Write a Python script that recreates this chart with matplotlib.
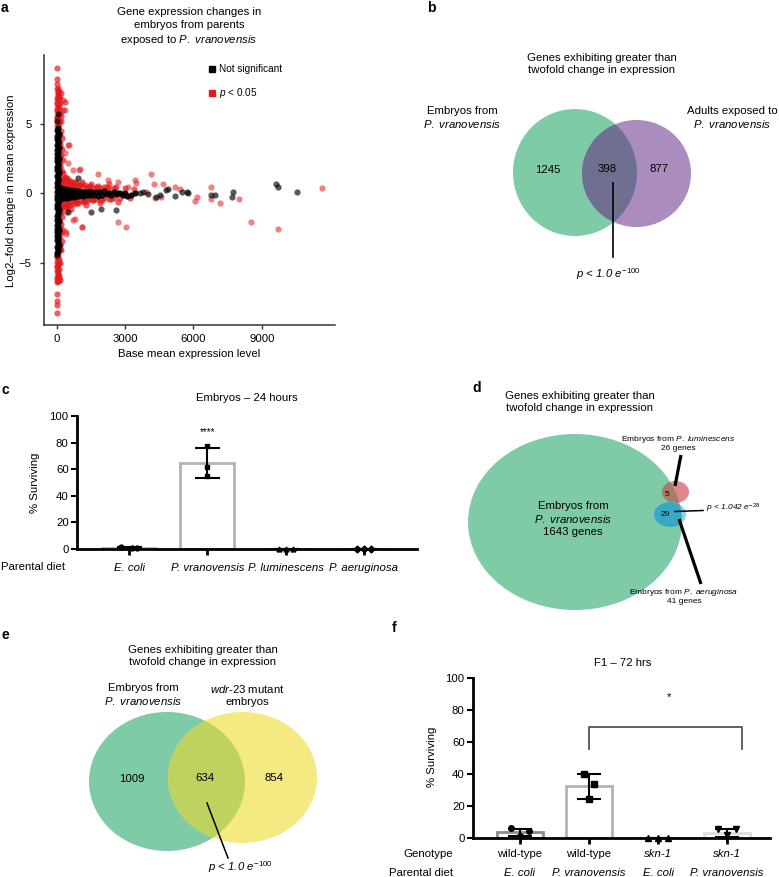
import matplotlib
matplotlib.use("Agg")
import matplotlib.pyplot as plt
from matplotlib.patches import Ellipse
from matplotlib.lines import Line2D
import numpy as np

plt.rcParams['font.family'] = ['Liberation Sans', 'DejaVu Sans']
plt.rcParams['mathtext.fontset'] = 'custom'
plt.rcParams['mathtext.rm'] = 'Liberation Sans'
plt.rcParams['mathtext.it'] = 'Liberation Sans:italic'
plt.rcParams['mathtext.bf'] = 'Liberation Sans:bold'

# ---------------- data ----------------
# panel a: significant genes (p < 0.05) - base mean, log2 fold change
# dense column of low-expression genes
sig_col_base = [20, 90, 40, 120, 10, 70, 140, 30, 100, 50, 15, 130, 60, 25, 110, 45, 80, 10, 55, 35, 40, 30,
                60, 100, 30, 90, 40, 110, 20, 80, 50, 100,
                206, 350, 277, 160, 200, 180,
                30, 100, 20, 80, 40, 120, 10, 60, 30, 90, 50, 20, 40, 35, 40, 35, 150, 170,
                70, 20, 60, 100, 30, 70, 50, 90, 20, 60]
sig_col_lfc = [4.9, 5.0, 5.2, 5.3, 5.5, 5.6, 5.8, 5.9, 6.1, 6.2, 6.4, 6.5, 6.7, 6.9, 7.0, 7.2, 7.3, 7.5, 7.6, 7.9, 8.2, 9.0,
               4.8, 5.15, 5.45, 5.75, 6.05, 6.35, 6.6, 6.85, 7.1, 7.4,
               7.2, 6.6, 6.0, 6.9, 5.6, 5.2,
               -4.5, -4.7, -4.9, -5.1, -5.3, -5.4, -5.6, -5.8, -6.0, -6.1, -6.3, -6.4, -7.2, -7.7, -8.0, -8.6, -5.0, -6.2,
               -4.4, -4.6, -4.8, -5.0, -5.2, -5.5, -5.7, -5.9, -6.15, -6.3]
# red shoulder along the column and around the horizontal band
sig_halo_base = [180, 220, 160, 250, 200, 300, 170, 260, 350, 200, 300, 180, 250, 200, 280, 170, 230, 160, 200,
                 120, 140, 110, 150, 130, 160, 120, 140, 110, 130, 150, 120, 140, 110, 160, 130, 120, 150, 130,
                 150, 230, 300, 380, 450, 520, 600, 680, 760, 850, 950, 1050, 1150, 1250, 1350, 1450, 1600, 1750,
                 1900, 2100, 2300, 2500,
                 150, 230, 300, 380, 450, 520, 600, 680, 760, 850, 950, 1050, 1150, 1250, 1350, 1450, 1600, 1750,
                 1900, 2100, 2300, 2500,
                 200, 350, 500, 650, 800, 200, 350, 500, 650, 800,
                 300, 450, 600, 380, 520, 650, 420, 800, 900, 700,
                 1000, 1200, 1400, 1600, 1800, 2000, 2200, 2400, 2600, 2800, 3000, 1100, 1500, 1900, 2300, 2700,
                 1300, 3200, 3400]
sig_halo_lfc = [4.5, 4.0, 3.6, 3.2, 2.8, 2.4, 2.0, 1.6, 1.2, 0.9, -0.9, -1.3, -1.7, -2.2, -2.6, -3.0, -3.4, -3.8, -4.1,
                0.6, 1.0, 1.4, 1.8, 2.2, 2.6, 3.0, 3.4, 3.8, 4.2, -0.6, -1.0, -1.5, -2.0, -2.4, -2.8, -3.2, -3.6, -4.0,
                1.2, 1.0, 0.9, 1.1, 0.8, 0.95, 0.7, 0.85, 0.6, 0.75, 0.55, 0.7, 0.5, 0.6, 0.45, 0.55, 0.4, 0.5,
                0.4, 0.45, 0.35, 0.4,
                -1.1, -0.9, -1.0, -0.8, -0.95, -0.7, -0.85, -0.6, -0.75, -0.55, -0.7, -0.5, -0.6, -0.45, -0.55, -0.4,
                -0.5, -0.4, -0.45, -0.35, -0.4, -0.3,
                0.6, 0.55, 0.5, 0.5, 0.45, -0.6, -0.55, -0.5, -0.45, -0.45,
                1.5, 1.1, 0.9, 0.7, -0.8, -1.1, -1.0, 0.8, -0.7, 0.6,
                0.6, -0.55, 0.5, -0.5, 0.55, -0.45, 0.5, -0.4, 0.45, -0.35, 0.4, 0.8, 0.7, -0.7, 0.65, -0.6,
                -0.8, -0.3, 0.3]
# isolated significant genes
sig_out_base = [497, 351, 716, 1010, 424, 716, 1130, 424, 206,
                11620, 9690, 8520, 8005, 7170, 6760, 6760, 6160, 6060, 5400, 5180, 4670, 4260, 4130, 4595, 4300,
                3940, 3500, 3425, 3060, 2690, 3130, 2690, 2250, 1815, 1130, 790, 965, 525, 500, 425, 350, 275]
sig_out_lfc = [3.5, 2.9, 1.7, 1.76, -1.3, -1.9, -2.4, -2.8, -2.8,
               0.37, -2.53, -2.03, -0.37, -0.71, 0.49, -0.42, -0.25, -0.56, 0.32, 0.49, 0.68, 0.68, 1.38, -0.23, -0.35,
               0.13, 0.73, 0.97, -2.43, -2.07, 0.49, 0.85, 0.97, 1.38, -2.43, -1.83, 1.69, 3.49, 2.22, -2.94, 6.0, 6.73]

# panel a: not significant genes
ns_col_base = [30, 80, 55, 10, 95, 45, 70, 20, 85, 40, 60, 15, 90, 35, 75, 25, 50, 100, 30, 65, 10, 80, 45, 95,
               20, 60, 35, 85, 50, 15, 70, 40, 90, 25, 55, 100, 30, 75, 10, 65, 45, 85, 20, 55, 95, 35, 70, 15,
               80, 50, 25, 90, 40, 60, 10, 75, 30, 100, 45, 20, 85, 55, 35, 70, 15, 90, 50, 25, 60]
ns_col_lfc = [-4.25, -4.12, -3.98, -3.86, -3.71, -3.6, -3.45, -3.33, -3.2, -3.06, -2.93, -2.8, -2.66, -2.54,
              -2.4, -2.27, -2.14, -2.0, -1.88, -1.74, -1.61, -1.48, -1.35, -1.22, -1.08, -0.95, -0.82, -0.7,
              -0.56, -0.43, -0.3, -0.17, -0.04, 0.09, 0.22, 0.35, 0.48, 0.61, 0.74, 0.88, 1.0, 1.14, 1.27, 1.4,
              1.53, 1.66, 1.8, 1.93, 2.06, 2.19, 2.32, 2.45, 2.58, 2.72, 2.85, 2.98, 3.11, 3.24, 3.37, 3.5,
              3.63, 3.77, 3.9, 4.03, 4.16, 4.29, 4.42, 4.55, 4.68]
ns_band_base = [120, 160, 200, 240, 280, 320, 360, 400, 450, 500, 550, 600, 650, 700, 760, 820, 880, 940, 1000,
                1080, 1160, 1240, 1320, 1400, 1480,
                120, 160, 200, 240, 280, 320, 360, 400, 450, 500, 550, 600, 650, 700, 760, 820, 880, 940, 1000,
                1080, 1160, 1240, 1320, 1400, 1480,
                140, 260, 380, 520, 680, 860, 1040, 1240, 1440,
                1560, 1640, 1720, 1800, 1900, 2000, 2100, 2200, 2300, 2400, 2500, 2600, 2700, 2800, 2900, 3000,
                3100, 3280, 3450]
ns_band_lfc = [0.35, 0.3, 0.38, 0.28, 0.33, 0.25, 0.3, 0.22, 0.27, 0.2, 0.24, 0.18, 0.22, 0.17, 0.2, 0.15, 0.18,
               0.12, 0.16, 0.12, 0.14, 0.1, 0.12, 0.08, 0.1,
               -0.38, -0.32, -0.4, -0.3, -0.35, -0.28, -0.32, -0.25, -0.3, -0.22, -0.26, -0.2, -0.24, -0.18,
               -0.22, -0.16, -0.2, -0.14, -0.18, -0.13, -0.15, -0.11, -0.13, -0.1, -0.12,
               0.02, -0.03, 0.01, -0.02, 0.03, -0.01, 0.02, -0.02, 0.01,
               0.12, -0.1, 0.1, -0.15, 0.1, -0.1, 0.15, -0.05, 0.05, -0.1, 0.1, -0.05, 0.0, 0.05, -0.1, 0.0,
               -0.15, -0.1, 0.05]
ns_out_base = [30, 50, 20, 3645, 3790, 4010, 4375, 4520, 4815, 4890, 5180, 5475, 5720, 5765, 6760, 6935,
               7695, 7740, 9615, 9715, 10520, 2620, 1930, 1520, 500, 940]
ns_out_lfc = [5.2, 5.7, -4.4, 0.06, 0.13, -0.04, -0.23, -0.11, 0.25, 0.3, -0.18, 0.09, 0.13, 0.01, -0.11, -0.11,
              -0.27, 0.11, 0.68, 0.44, 0.09, -1.19, -1.12, -1.35, -1.35, 1.09]

# panel b / d / e: gene counts
venn_b = [1245, 398, 877]
venn_d = [1643, 5, 29, 26, 41]
venn_e = [1009, 634, 854]

# panel c: embryo survival, 24 h
c_diets = ['E. coli', 'P. vranovensis', 'P. luminescens', 'P. aeruginosa']
c_means = [1.0, 64.8, 0.0, 0.0]
c_sd = [0.5, 11.3, 0.0, 0.0]
c_points = [[1.6, 0.7, 0.8], [77.6, 62.0, 55.0], [0.0, 0.0, 0.0], [0.0, 0.0, 0.0]]

# panel f: F1 survival, 72 h
f_geno = ['wild-type', 'wild-type', 'skn-1', 'skn-1']
f_diets = ['E. coli', 'P. vranovensis', 'E. coli', 'P. vranovensis']
f_means = [3.5, 32.2, 0.0, 3.3]
f_sd = [2.0, 8.0, 0.0, 2.5]
f_points = [[6.4, 1.5, 4.6], [39.8, 24.4, 33.9], [0.0, 0.0, 0.0], [5.8, 1.9, 5.5]]

# ---------------- figure ----------------
W, H = 779, 877
fig = plt.figure(figsize=(W / 100, H / 100), dpi=100)


def px_axes(x0, y0, x1, y1):
    return fig.add_axes([x0 / W, 1 - y1 / H, (x1 - x0) / W, (y1 - y0) / H])


FS = 8.2
RED = '#e41a1c'

# ---- panel a: scatter ----
ax_a = px_axes(44, 55, 335, 325)
# red first, black on top; dense parts drawn with stronger alpha so they saturate like the original
ax_a.scatter(sig_col_base + sig_halo_base, sig_col_lfc + sig_halo_lfc, s=20, c=RED, alpha=0.7,
             linewidths=0, zorder=2)
ax_a.scatter(sig_out_base, sig_out_lfc, s=20, c=RED, alpha=0.55, linewidths=0, zorder=2)
ax_a.scatter(ns_col_base + ns_band_base, ns_col_lfc + ns_band_lfc, s=20, c='black', alpha=0.9,
             linewidths=0, zorder=3)
ax_a.scatter(ns_out_base, ns_out_lfc, s=20, c='black', alpha=0.65, linewidths=0, zorder=3)
ax_a.set_xlim(-550, 12200)
ax_a.set_ylim(-9.46, 9.96)
ax_a.set_xticks([0, 3000, 6000, 9000])
ax_a.set_yticks([-5, 0, 5])
for s in ['top', 'right']:
    ax_a.spines[s].set_visible(False)
for s in ['left', 'bottom']:
    ax_a.spines[s].set_color('#333333')
    ax_a.spines[s].set_linewidth(1.1)
ax_a.tick_params(axis='both', length=3, width=1, color='#333333', labelsize=FS)
ax_a.tick_params(axis='y', pad=6)
ax_a.tick_params(axis='x', pad=3.5)
ax_a.set_ylabel('Log2\u2013fold change in mean expression', fontsize=FS)
ax_a.yaxis.set_label_coords(-0.096, 0.496)
ax_a.set_xlabel('Base mean expression level', fontsize=FS)
ax_a.xaxis.set_label_coords(0.498, -0.089)
handles = [Line2D([], [], marker='s', ls='', color='black', markersize=4),
           Line2D([], [], marker='s', ls='', color=RED, markersize=4)]
ax_a.legend(handles, ['Not significant', '$p$ < 0.05'], loc='upper left',
            bbox_to_anchor=((209 - 44) / 291, (325 - 64) / 270), frameon=False,
            fontsize=7.2, handlelength=0.6, handletextpad=0.4, labelspacing=1.25,
            borderpad=0, borderaxespad=0)

# ---- panel c: bars ----
ax_c = px_axes(77, 416, 417, 549)
xc = np.arange(len(c_diets))
ax_c.bar(xc, c_means, width=0.69, fc='white', ec='#b3b3b3', lw=2, zorder=1)
ax_c.errorbar(xc, c_means, yerr=c_sd, fmt='none', ecolor='black', elinewidth=1.5,
              capsize=9, capthick=1.5, zorder=3)
c_marks = ['o', 's', '^', 'D']
c_offs = [[-0.1, 0.04, 0.1], [0.0, 0.0, 0.0], [-0.09, 0.0, 0.09], [-0.09, 0.0, 0.09]]
for i, pts in enumerate(c_points):
    ax_c.plot(xc[i] + np.array(c_offs[i]), pts, marker=c_marks[i], ls='', color='black',
              ms=3.5, clip_on=False, zorder=4)
ax_c.set_xlim(-0.667, 3.68)
ax_c.set_ylim(0, 100)
ax_c.set_yticks([0, 20, 40, 60, 80, 100])
ax_c.set_xticks(xc)
ax_c.set_xticklabels(c_diets, style='italic', fontsize=FS)
for s in ['top', 'right']:
    ax_c.spines[s].set_visible(False)
for s in ['left', 'bottom']:
    ax_c.spines[s].set_linewidth(2)
ax_c.tick_params(axis='y', length=4, width=1.5, pad=2, labelsize=FS)
ax_c.tick_params(axis='x', length=4, width=2, pad=6)
ax_c.set_ylabel('% Surviving', fontsize=FS)
ax_c.yaxis.set_label_coords(-0.109, 0.496)
ax_c.text(1, 88, '****', ha='center', va='center', fontsize=7)

# ---- panel f: bars ----
ax_f = px_axes(473, 678, 770, 838)
xf = np.arange(len(f_geno))
ax_f.bar(xf, f_means, width=0.66, fc='white', ec=['#8c8c8c', '#b3b3b3', '#b3b3b3', '#dddddd'],
         lw=2, zorder=1)
ax_f.errorbar(xf, f_means, yerr=f_sd, fmt='none', ecolor='black', elinewidth=1.5,
              capsize=8.7, capthick=1.5, zorder=3)
f_marks = ['o', 's', '^', 'v']
f_offs = [[-0.13, 0.0, 0.13], [-0.07, 0.0, 0.07], [-0.14, 0.0, 0.14], [-0.13, 0.0, 0.13]]
for i, pts in enumerate(f_points):
    ax_f.plot(xf[i] + np.array(f_offs[i]), pts, marker=f_marks[i], ls='', color='black',
              ms=4, clip_on=False, zorder=4)
ax_f.set_xlim(-0.68, 3.62)
ax_f.set_ylim(0, 100)
ax_f.set_yticks([0, 20, 40, 60, 80, 100])
ax_f.set_xticks(xf)
ax_f.set_xticklabels([])
for s in ['top', 'right']:
    ax_f.spines[s].set_visible(False)
for s in ['left', 'bottom']:
    ax_f.spines[s].set_linewidth(2)
ax_f.tick_params(axis='y', length=4, width=1.5, pad=2, labelsize=FS)
ax_f.tick_params(axis='x', length=4, width=2)
ax_f.set_ylabel('% Surviving', fontsize=FS)
ax_f.yaxis.set_label_coords(-0.121, 0.506)
trf = ax_f.get_xaxis_transform()
for i in range(len(f_geno)):
    ax_f.text(xf[i], -0.10, f_geno[i], transform=trf, ha='center', va='center', fontsize=FS,
              style='italic' if f_geno[i].startswith('skn') else 'normal', clip_on=False)
    ax_f.text(xf[i], -0.219, f_diets[i], transform=trf, ha='center', va='center', fontsize=FS,
              style='italic', clip_on=False)
ax_f.plot([1, 1, 3.22, 3.22], [55.6, 69.4, 69.4, 55.6], color='#555555', lw=1.3, zorder=2)
ax_f.text(2.16, 88, '*', ha='center', va='center', fontsize=8)

# ---- overlay in pixel coordinates: venns, titles, panel letters ----
ov = fig.add_axes([0, 0, 1, 1])
ov.set_xlim(0, W)
ov.set_ylim(H, 0)
ov.axis('off')


def venn2(ca, ra, cb, rb, col_a, col_b, col_ab):
    ea = Ellipse(ca, 2 * ra[0], 2 * ra[1], fc=col_a, ec='none')
    eb = Ellipse(cb, 2 * rb[0], 2 * rb[1], fc=col_b, ec='none')
    eab = Ellipse(cb, 2 * rb[0], 2 * rb[1], fc=col_ab, ec='none')
    for e in (ea, eb, eab):
        ov.add_patch(e)
    eab.set_clip_path(ea)
    return ea


GREEN = '#7fcba8'

# panel letters
for lab, (lx, ly) in zip('abcdef', [(1, 8), (427, 8), (1, 390), (472, 388), (1, 635), (392, 628)]):
    ov.text(lx, ly, lab, ha='left', va='center', fontsize=10, weight='bold')

# a title
ov.text(189, 27, 'Gene expression changes in\nembryos from parents\nexposed to $\\mathit{P.\\ vranovensis}$',
        ha='center', va='center', fontsize=FS, linespacing=1.3)

# b venn
venn2((575, 172.5), (62, 63.5), (636.5, 173.5), (54.5, 53.5), GREEN, '#aa8cbe', '#6e6f91')
ov.text(602, 64, 'Genes exhibiting greater than\ntwofold change in expression', ha='center', va='center',
        fontsize=FS, linespacing=1.25)
ov.text(462, 117.5, 'Embryos from\n$\\mathit{P.\\ vranovensis}$', ha='center', va='center', fontsize=FS,
        linespacing=1.2)
ov.text(732, 117.5, 'Adults exposed to\n$\\mathit{P.\\ vranovensis}$', ha='center', va='center', fontsize=FS,
        linespacing=1.2)
for val, (tx, ty) in zip(venn_b, [(548, 170), (607, 169), (659, 169)]):
    ov.text(tx, ty, str(val), ha='center', va='center', fontsize=FS)
ov.plot([613, 613], [183, 257], color='black', lw=1.2)
ov.text(608, 274, '$p$ < 1.0 $e^{-100}$', ha='center', va='center', fontsize=FS, style='italic')

# c / f titles and row labels
ov.text(247, 398, 'Embryos \u2013 24 hours', ha='center', va='center', fontsize=FS)
ov.text(1, 567, 'Parental diet', ha='left', va='center', fontsize=FS)
ov.text(623, 663, 'F1 \u2013 72 hrs', ha='center', va='center', fontsize=FS)
ov.text(453, 854, 'Genotype', ha='right', va='center', fontsize=FS)
ov.text(453, 873, 'Parental diet', ha='right', va='center', fontsize=FS)

# d venn
ed = Ellipse((575, 522), 214, 176, fc=GREEN, ec='none')
ov.add_patch(ed)
for cen, size, c_out, c_in in [((675.5, 492), (27, 22), '#e1878c', '#a57c68'),
                               ((670, 514.5), (32, 25), '#8dd3ea', '#38a9c5')]:
    e1 = Ellipse(cen, size[0], size[1], fc=c_out, ec='none')
    e2 = Ellipse(cen, size[0], size[1], fc=c_in, ec='none')
    ov.add_patch(e1)
    ov.add_patch(e2)
    e2.set_clip_path(ed)
ov.text(580, 402, 'Genes exhibiting greater than\ntwofold change in expression', ha='center', va='center',
        fontsize=FS, linespacing=1.25)
ov.text(573, 519, 'Embryos from\n$\\mathit{P.\\ vranovensis}$\n%d genes' % venn_d[0], ha='center',
        va='center', fontsize=FS, linespacing=1.2)
ov.text(667, 494, str(venn_d[1]), ha='center', va='center', fontsize=6)
ov.text(665, 514.5, str(venn_d[2]), ha='center', va='center', fontsize=6)
ov.text(678, 443, 'Embryos from $\\mathit{P.\\ luminescens}$\n%d genes' % venn_d[3], ha='center',
        va='center', fontsize=6, linespacing=1.15)
ov.text(684, 596, 'Embryos from $\\mathit{P.\\ aeruginosa}$\n%d genes' % venn_d[4], ha='center',
        va='center', fontsize=6, linespacing=1.15)
ov.plot([681, 675], [455, 486], color='black', lw=2.3, solid_capstyle='butt')
ov.plot([679, 701], [519, 584], color='black', lw=2.3, solid_capstyle='butt')
ov.plot([675, 703], [511.5, 510.5], color='black', lw=1.1)
ov.text(706, 508, '$p$ < 1.042 $e^{-28}$', ha='left', va='center', fontsize=6, style='italic')

# e venn
venn2((167, 781.5), (78, 69.5), (242.5, 777.5), (74.5, 65.5), GREEN, '#f5ea82', '#bed25f')
ov.text(203, 656, 'Genes exhibiting greater than\ntwofold change in expression', ha='center', va='center',
        fontsize=FS, linespacing=1.25)
ov.text(143, 695, 'Embryos from\n$\\mathit{P.\\ vranovensis}$', ha='center', va='center', fontsize=FS,
        linespacing=1.2)
ov.text(247, 695, '$\\mathit{wdr}$-$\\mathit{23}$ mutant\nembryos', ha='center', va='center', fontsize=FS,
        linespacing=1.2)
for val, (tx, ty) in zip(venn_e, [(132, 779), (205, 778), (274, 778)]):
    ov.text(tx, ty, str(val), ha='center', va='center', fontsize=FS)
ov.plot([207, 228], [803, 858], color='black', lw=1.1)
ov.text(240, 867, '$p$ < 1.0 $e^{-100}$', ha='center', va='center', fontsize=FS, style='italic')

fig.savefig('out.png', dpi=100, facecolor='white')
